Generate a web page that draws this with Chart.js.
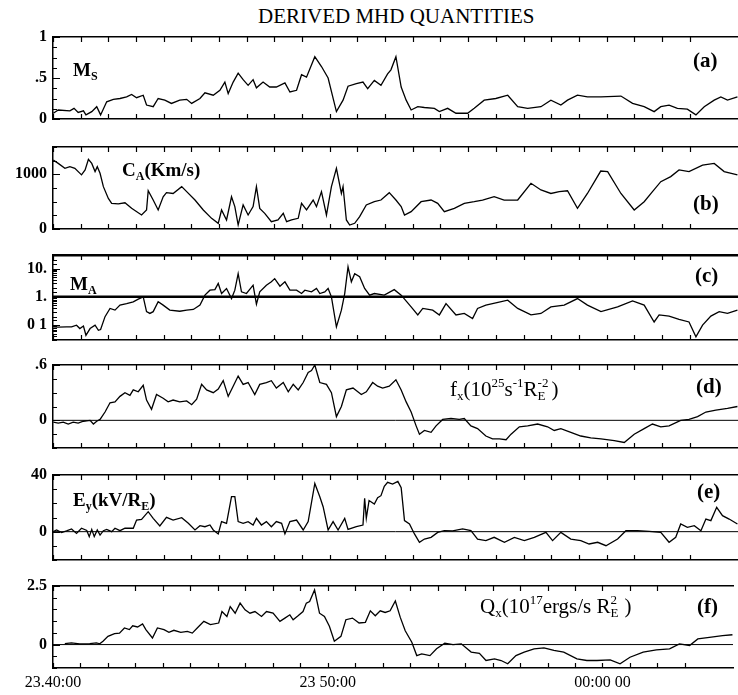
<!DOCTYPE html>
<html>
<head>
<meta charset="utf-8">
<script src="https://cdn.jsdelivr.net/npm/chart.js@4/dist/chart.umd.min.js"></script>
<style>
body { margin: 0; background: #fff; width: 738px; height: 695px; position: relative; overflow: hidden;
       font-family: "Liberation Serif", "DejaVu Serif", serif; color: #000; }
canvas { position: absolute; left: 0; }
.lbl { position: absolute; line-height: 1; font-size: 19px; white-space: nowrap; }
.b { font-weight: bold; }
.big { font-size: 21px; }
.tag { font-size: 21px; font-weight: bold; }
.lbl sub, .lbl sup { font-size: 12px; line-height: 0; position: relative; vertical-align: baseline; }
.big sub, .big sup { font-size: 13px; }
.lbl sub { top: 4px; }
.lbl sup { top: -9px; }
.ss { display: inline-block; position: relative; width: 14px; height: 1px; }
.ss .sp { position: absolute; left: 0; top: -19px; font-size: 13px; }
.ss .sb { position: absolute; left: 0; top: -6px; font-size: 13px; }
</style>
</head>
<body>
<div class="lbl" style="left:258px;top:6px;font-size:21px">DERIVED MHD QUANTITIES</div>

<canvas id="pa"></canvas>
<canvas id="pb"></canvas>
<canvas id="pc"></canvas>
<canvas id="pd"></canvas>
<canvas id="pe"></canvas>
<canvas id="pf"></canvas>

<div class="lbl b" style="left:73px;top:60px">M<sub>S</sub></div>
<div class="lbl tag" style="left:693px;top:50px">(a)</div>
<div class="lbl b" style="left:122px;top:160px">C<sub>A</sub>(Km/s)</div>
<div class="lbl tag" style="left:693px;top:193px">(b)</div>
<div class="lbl b" style="left:70px;top:274px">M<sub>A</sub></div>
<div class="lbl tag" style="left:695px;top:265px">(c)</div>
<div class="lbl big" style="left:450px;top:379px">f<sub>x</sub>(10<sup>25</sup>s<sup>-1</sup>R<span class="ss"><span class="sp">-2</span><span class="sb">E</span></span>)</div>
<div class="lbl tag" style="left:696px;top:376px">(d)</div>
<div class="lbl b" style="left:73px;top:490px">E<sub>y</sub>(kV/R<sub>E</sub>)</div>
<div class="lbl tag" style="left:697px;top:481px">(e)</div>
<div class="lbl big" style="left:480px;top:596px">Q<sub>x</sub>(10<sup>17</sup>ergs/s R<span class="ss"><span class="sp">2</span><span class="sb">E</span></span>)</div>
<div class="lbl tag" style="left:697px;top:596px">(f)</div>

<script>
// time axis: minutes after 23:40:00
const xMax = 24.75;
const xTickVals = [0, 10, 20];
const xTickText = ['23.40:00', '23 50:00', '00:00 00'];

// (a) sonic Mach number
const tA = [0.01,0.19,0.61,0.76,0.91,1.10,1.19,1.40,1.58,1.72,1.94,2.18,2.42,2.66,2.84,3.02,3.26,3.38,3.62,3.80,
  4.04,4.28,4.58,4.83,5.01,5.31,5.49,5.79,6.03,6.21,6.33,6.51,6.69,6.87,7.05,7.23,7.35,7.59,7.83,8.07,
  8.38,8.56,8.80,8.98,9.16,9.46,9.70,9.94,10.24,10.48,10.66,10.96,11.20,11.37,11.61,11.85,12.09,12.21,12.39,12.58,
  12.76,12.94,13.18,13.42,13.78,13.96,14.26,14.56,14.98,15.22,15.58,16.00,16.43,16.79,17.15,17.63,17.99,18.35,18.59,18.95,
  19.31,19.80,20.52,20.94,21.36,21.72,21.96,22.26,22.56,22.92,23.23,23.53,23.89,24.13,24.37,24.73];
const msVal = [0.07,0.11,0.10,0.13,0.08,0.10,0.05,0.09,0.15,0.05,0.21,0.24,0.25,0.27,0.30,0.26,0.29,0.17,0.15,0.25,
  0.23,0.19,0.23,0.24,0.19,0.25,0.32,0.29,0.35,0.45,0.31,0.45,0.56,0.48,0.41,0.48,0.38,0.45,0.39,0.39,
  0.44,0.33,0.35,0.54,0.51,0.76,0.64,0.50,0.09,0.23,0.40,0.43,0.45,0.37,0.47,0.41,0.55,0.60,0.76,0.39,
  0.23,0.11,0.15,0.14,0.13,0.09,0.13,0.07,0.07,0.13,0.23,0.25,0.29,0.15,0.13,0.15,0.23,0.17,0.23,0.29,
  0.27,0.27,0.28,0.19,0.15,0.09,0.15,0.17,0.13,0.12,0.05,0.15,0.23,0.27,0.23,0.27];

// (b) Alfven speed, km/s
const tB = [0.01,0.19,0.43,0.61,0.79,1.03,1.16,1.28,1.40,1.52,1.60,1.70,1.82,2.00,2.12,2.36,2.60,2.84,3.20,3.38,
  3.44,3.62,3.80,3.98,4.10,4.34,4.65,4.83,5.13,5.43,5.73,5.97,6.09,6.27,6.45,6.57,6.69,6.87,7.05,7.23,
  7.35,7.47,7.65,7.89,8.13,8.32,8.44,8.62,8.86,8.98,9.16,9.40,9.52,9.70,9.88,10.06,10.24,10.42,10.48,10.60,
  10.72,10.90,11.08,11.32,11.61,11.85,12.15,12.39,12.58,12.70,12.94,13.30,13.66,13.90,14.14,14.50,14.86,15.22,15.52,15.94,
  16.30,16.79,17.27,17.63,17.99,18.29,18.59,18.95,19.31,19.79,20.04,20.52,21.00,21.36,21.66,21.96,22.32,22.62,22.98,23.47,
  23.89,24.25,24.73];
const caVal = [1260,1200,1110,1140,1110,990,1080,1275,1200,1050,1140,1020,775,560,470,458,480,378,256,348,
  700,530,348,590,665,650,775,683,530,348,195,104,348,165,590,410,73,440,256,410,
  775,378,287,134,165,287,134,165,195,470,348,530,410,683,256,775,1110,650,775,165,
  73,104,226,440,500,530,665,530,410,256,317,500,530,470,317,378,470,500,530,590,
  530,530,836,714,650,683,700,378,650,1060,1050,650,348,500,683,866,958,1080,1050,1170,
  1200,1050,990];

// (c) Alfven Mach number (log)
const tC = [0.01,0.19,0.49,0.67,0.85,0.97,1.10,1.19,1.34,1.52,1.64,1.72,1.88,2.06,2.24,2.42,2.66,2.90,3.08,3.26,
  3.38,3.50,3.62,3.80,3.98,4.22,4.58,4.83,5.07,5.31,5.49,5.67,5.85,5.97,6.09,6.27,6.45,6.57,6.69,6.81,
  6.99,7.23,7.35,7.47,7.71,7.89,8.01,8.20,8.38,8.56,8.80,8.98,9.10,9.34,9.52,9.64,9.82,9.94,10.06,10.24,
  10.42,10.54,10.66,10.78,10.90,11.08,11.26,11.44,11.61,11.97,12.33,12.58,12.94,13.18,13.36,13.72,13.96,14.20,14.56,14.86,
  15.16,15.34,15.64,16.00,16.43,16.79,17.27,17.63,17.99,18.47,18.95,19.31,19.80,20.40,20.94,21.36,21.72,21.90,22.26,22.62,
  22.98,23.23,23.47,23.77,24.07,24.37,24.73];
const maVal = [0.087,0.085,0.087,0.087,0.10,0.076,0.093,0.044,0.076,0.10,0.066,0.07,0.2,0.39,0.34,0.51,0.58,0.67,0.83,1.0,
  0.30,0.26,0.30,0.67,0.51,0.34,0.31,0.34,0.36,0.51,1.15,1.72,1.8,2.96,1.31,1.97,0.87,1.72,6.6,1.5,
  1.31,2.58,0.55,1.5,2.58,3.4,4.4,2.38,3.4,1.72,1.72,1.31,1.72,1.5,1.97,1.31,1.5,1.97,1.0,0.087,
  0.34,1.31,11.4,3.4,6.6,5.1,1.97,1.15,1.31,1.15,1.8,1.15,0.44,0.23,0.39,0.34,0.23,0.58,0.23,0.26,
  0.17,0.39,0.51,0.61,0.76,0.39,0.23,0.26,0.44,0.51,0.87,0.51,0.30,0.44,0.72,0.51,0.13,0.23,0.21,0.16,
  0.13,0.039,0.1,0.21,0.30,0.26,0.34];

// (d) fx, 10^25 s^-1 RE^-2
const tD = [0.01,0.19,0.37,0.55,0.73,0.91,1.10,1.34,1.46,1.58,1.70,1.88,2.06,2.24,2.42,2.60,2.78,2.90,3.08,3.26,
  3.38,3.56,3.74,3.98,4.16,4.34,4.58,4.83,5.01,5.19,5.37,5.55,5.79,5.97,6.15,6.33,6.51,6.69,6.87,7.05,
  7.29,7.47,7.71,7.89,8.07,8.32,8.50,8.68,8.86,9.04,9.22,9.34,9.46,9.64,9.88,10.06,10.24,10.42,10.60,10.84,
  11.14,11.32,11.55,11.73,11.91,12.15,12.39,12.58,12.76,12.94,13.12,13.24,13.42,13.66,13.84,14.08,14.38,14.68,14.86,15.10,
  15.34,15.64,15.88,16.13,16.37,16.55,16.85,17.15,17.51,17.87,18.11,18.35,18.71,19.07,19.43,19.80,20.28,20.64,21.00,21.36,
  21.66,21.96,22.26,22.68,22.98,23.29,23.59,23.95,24.37,24.73];
const fxVal = [-0.02,-0.03,-0.02,-0.04,-0.02,-0.03,-0.01,0,-0.04,-0.01,0.01,0.09,0.19,0.2,0.26,0.3,0.27,0.33,0.31,0.38,
  0.22,0.12,0.28,0.24,0.2,0.22,0.2,0.21,0.17,0.23,0.39,0.33,0.3,0.34,0.43,0.26,0.37,0.48,0.39,0.41,
  0.28,0.39,0.41,0.43,0.35,0.41,0.31,0.39,0.33,0.41,0.52,0.54,0.6,0.41,0.39,0.3,0.04,0.15,0.33,0.35,
  0.28,0.31,0.41,0.37,0.35,0.37,0.44,0.33,0.2,0.09,-0.06,-0.15,-0.11,-0.13,-0.06,0.01,0.02,0.01,0.02,-0.06,
  -0.09,-0.17,-0.2,-0.2,-0.21,-0.15,-0.07,-0.06,-0.04,-0.07,-0.11,-0.09,-0.13,-0.17,-0.19,-0.2,-0.22,-0.24,-0.15,-0.09,
  -0.04,-0.07,-0.06,0,0.01,0.04,0.09,0.11,0.13,0.15];

// (e) Ey, kV/RE
const tE = [0.01,0.13,0.31,0.49,0.67,0.85,1.03,1.22,1.31,1.40,1.49,1.60,1.70,1.82,1.94,2.12,2.24,2.42,2.60,2.90,
  3.02,3.20,3.44,3.62,3.86,4.10,4.34,4.65,4.89,5.13,5.31,5.49,5.67,5.79,5.97,6.09,6.27,6.45,6.57,6.69,
  6.87,7.05,7.23,7.35,7.53,7.71,7.89,8.07,8.26,8.38,8.56,8.80,9.04,9.22,9.46,9.64,9.76,9.94,10.12,10.30,
  10.54,10.66,10.96,11.20,11.26,11.32,11.42,11.61,11.73,11.85,11.97,12.09,12.27,12.46,12.58,12.70,12.88,13.06,13.24,13.42,
  13.66,13.90,14.14,14.44,14.80,15.10,15.34,15.64,15.94,16.31,16.67,17.03,17.39,17.81,18.05,18.35,18.71,19.07,19.37,19.68,
  19.98,20.40,20.70,21.12,21.54,21.96,22.26,22.50,22.68,22.92,23.17,23.41,23.59,23.77,23.98,24.19,24.43,24.73];
const eyVal = [0,1.2,-0.7,0.5,1.9,-1.2,2.4,0.9,-3.5,1.6,-3.5,1.2,-2.4,0.7,1.6,0,2.4,0.7,2.4,2.4,
  8.2,8.7,14.1,9.4,4.0,10.1,8.2,9.9,5.9,1.2,4.2,3.5,4.7,1.2,-1.6,7.1,5.9,24.7,24.7,7.1,
  5.9,7.1,4.7,9.4,4.7,7.1,3.5,7.1,5.9,-1.6,7.1,8.2,1.2,7.1,34,24.7,17.6,1.2,7.1,1.2,
  9.4,1.6,3.5,4.7,23.5,9.4,22,19.5,24,25.4,32,34.8,33.6,35.5,31,7.8,5.4,-1.6,-7.5,-5.2,
  -4,-0.5,0.7,0.5,1.9,0.7,-5.2,-6.3,-4,-7.5,-4,-6.3,-4,-0.5,-6.3,-0.5,-5.2,-6.3,-8.7,-7.5,
  -9.9,-5.2,0.7,0.7,0.2,-0.5,-7.5,-4,5.4,3.1,4.2,0.7,8.9,7.8,17.2,11.3,8.9,5.4];

// (f) Qx, 10^17 ergs/s RE^2
const tF = [0.43,0.67,0.97,1.34,1.58,1.70,1.82,2.00,2.24,2.42,2.60,2.78,2.90,3.08,3.26,3.38,3.62,3.80,4.04,4.22,
  4.40,4.65,4.89,5.07,5.25,5.49,5.73,6.03,6.15,6.33,6.45,6.63,6.81,6.99,7.17,7.35,7.59,7.77,8.01,8.26,
  8.44,8.62,8.74,8.92,9.10,9.22,9.34,9.52,9.70,9.88,10.06,10.24,10.48,10.66,10.90,11.14,11.37,11.55,11.73,11.91,
  12.09,12.27,12.46,12.64,12.82,13.06,13.24,13.42,13.72,13.96,14.26,14.56,14.86,15.22,15.52,15.76,16.07,16.31,16.55,16.85,
  17.15,17.51,17.87,18.23,18.59,19.07,19.43,19.80,20.28,20.64,21.00,21.48,21.96,22.44,22.80,23.17,23.47,23.89,24.37,24.73];
const qxVal = [0.04,0.07,0.03,0.04,0.07,0.03,0.14,0.35,0.47,0.49,0.71,0.64,0.8,0.75,0.88,0.64,0.28,0.71,0.64,0.52,
  0.61,0.52,0.56,0.49,0.71,0.99,0.85,0.92,1.41,1.2,1.62,1.34,1.77,1.48,1.34,1.41,1.2,1.41,1.34,0.99,
  1.13,1.27,1.06,1.23,1.41,1.77,1.84,2.33,1.34,1.2,0.78,0.14,0.35,1.06,1.13,0.92,0.95,1.44,1.23,1.44,
  1.37,1.44,1.86,1.16,0.59,0.1,-0.47,-0.4,-0.47,-0.18,0.06,0.0,0.03,-0.32,-0.37,-0.68,-0.61,-0.68,-0.82,-0.47,
  -0.32,-0.18,-0.14,-0.25,-0.32,-0.61,-0.68,-0.68,-0.65,-0.82,-0.54,-0.32,-0.23,-0.18,0.03,-0.04,0.24,0.31,0.38,0.42];

Chart.defaults.font.family = '"Liberation Serif", "DejaVu Serif", serif';
Chart.defaults.color = '#000';

function pts(ts, vs) {
  const n = Math.min(ts.length, vs.length);
  const out = [];
  for (let i = 0; i < n; i++) out.push({ x: ts[i], y: vs[i] });
  return out;
}

function findLabel(vals, texts, v) {
  const i = vals.findIndex(tv => Math.abs(tv - v) < 1e-6 * Math.max(1, Math.abs(tv)));
  return i >= 0 ? texts[i] : '';
}

// short tick marks pointing into the frame, plus an optional reference line
const frameTicks = {
  id: 'frameTicks',
  afterDatasetsDraw(chart, args, opts) {
    const { ctx, chartArea: a, scales } = chart;
    ctx.save();
    if (opts.ref !== undefined) {
      const py = scales.y.getPixelForValue(opts.ref);
      ctx.strokeStyle = '#000';
      ctx.lineWidth = opts.refWidth || 1;
      ctx.beginPath();
      ctx.moveTo(a.left, py);
      ctx.lineTo(a.right, py);
      ctx.stroke();
    }
    ctx.lineWidth = 1.2;
    ctx.beginPath();
    scales.x.ticks.forEach(t => {
      if (!Number.isInteger(t.value)) return;
      const px = Math.round(scales.x.getPixelForValue(t.value)) + 0.5;
      ctx.moveTo(px, a.bottom);
      ctx.lineTo(px, a.bottom - 5);
      ctx.moveTo(px, a.top);
      ctx.lineTo(px, a.top + 5);
    });
    scales.y.ticks.forEach(t => {
      const py = Math.round(scales.y.getPixelForValue(t.value)) + 0.5;
      if (py < a.top - 1 || py > a.bottom + 1) return;
      const len = t.label ? 7 : 4;
      ctx.moveTo(a.left, py);
      ctx.lineTo(a.left + len, py);
    });
    ctx.stroke();
    ctx.restore();
  }
};

function makePanel(id, top, height, data, y, last) {
  const cv = document.getElementById(id);
  // padding must cover half a tick label plus tick padding, or Chart.js shrinks the area
  const padTop = 17, padBottom = last ? 0 : 17, xHeight = last ? 30 : 0;
  cv.width = 738;
  cv.height = height + padTop + padBottom + xHeight;
  cv.style.top = (top - padTop) + 'px';
  const yScale = {
    type: y.type || 'linear',
    min: y.min, max: y.max,
    afterFit: s => { s.width = 53; },
    grid: { display: false, drawTicks: false },
    border: { display: true, color: '#000', width: 1.5 },
    ticks: {
      autoSkip: false, padding: 6,
      font: { size: 16, weight: 'bold' },
      callback: v => findLabel(y.tickVals, y.tickText, v)
    }
  };
  if (y.step) yScale.ticks.stepSize = y.step;
  return new Chart(cv, {
    type: 'line',
    data: {
      datasets: [{
        data: data,
        borderColor: '#000', borderWidth: 1.3,
        pointRadius: 0, tension: 0, fill: false
      }]
    },
    options: {
      responsive: false, animation: false, devicePixelRatio: 1,
      layout: { padding: { top: padTop, bottom: padBottom, left: 0, right: 0 } },
      plugins: {
        legend: { display: false }, tooltip: { enabled: false },
        frameTicks: { ref: y.ref, refWidth: y.refWidth }
      },
      scales: {
        x: {
          type: 'linear', min: 0, max: xMax,
          afterFit: s => { s.height = xHeight; },
          grid: { display: false, drawTicks: false },
          border: { display: true, color: '#000', width: 1.5 },
          ticks: {
            display: !!last, stepSize: 1, autoSkip: false, maxRotation: 0, padding: 5,
            font: { size: 16 },
            callback: v => findLabel(xTickVals, xTickText, v)
          }
        },
        x2: {
          type: 'linear', axis: 'x', position: 'top', min: 0, max: xMax,
          afterFit: s => { s.height = 0; },
          grid: { display: false, drawTicks: false },
          border: { display: true, color: '#000', width: y.topWidth || 1.5 },
          ticks: { display: false }
        },
        y: yScale
      }
    },
    plugins: [frameTicks]
  });
}

makePanel('pa', 37, 82, pts(tA, msVal),
  { min: 0, max: 1, step: 0.125, tickVals: [0, 0.5, 1], tickText: ['0', '.5', '1'] });
makePanel('pb', 147, 82, pts(tB, caVal),
  { min: 0, max: 1500, step: 250, tickVals: [0, 1000], tickText: ['0', '1000'] });
makePanel('pc', 255, 85, pts(tC, maVal),
  { type: 'logarithmic', min: 0.03, max: 30, tickVals: [0.1, 1, 10], tickText: ['0 1', '1.', '10.'],
    ref: 1, refWidth: 2.5, topWidth: 2.5 });
makePanel('pd', 365, 83, pts(tD, fxVal),
  { min: -0.3, max: 0.6, step: 0.15, tickVals: [0, 0.6], tickText: ['0', '.6'], ref: 0, refWidth: 1 });
makePanel('pe', 475, 85, pts(tE, eyVal),
  { min: -20, max: 40, step: 10, tickVals: [0, 40], tickText: ['0', '40'], ref: 0, refWidth: 1 });
makePanel('pf', 586, 82, pts(tF, qxVal),
  { min: -1, max: 2.5, step: 0.5, tickVals: [0, 2.5], tickText: ['0', '2.5'], ref: 0, refWidth: 1 }, true);
</script>
</body>
</html>
